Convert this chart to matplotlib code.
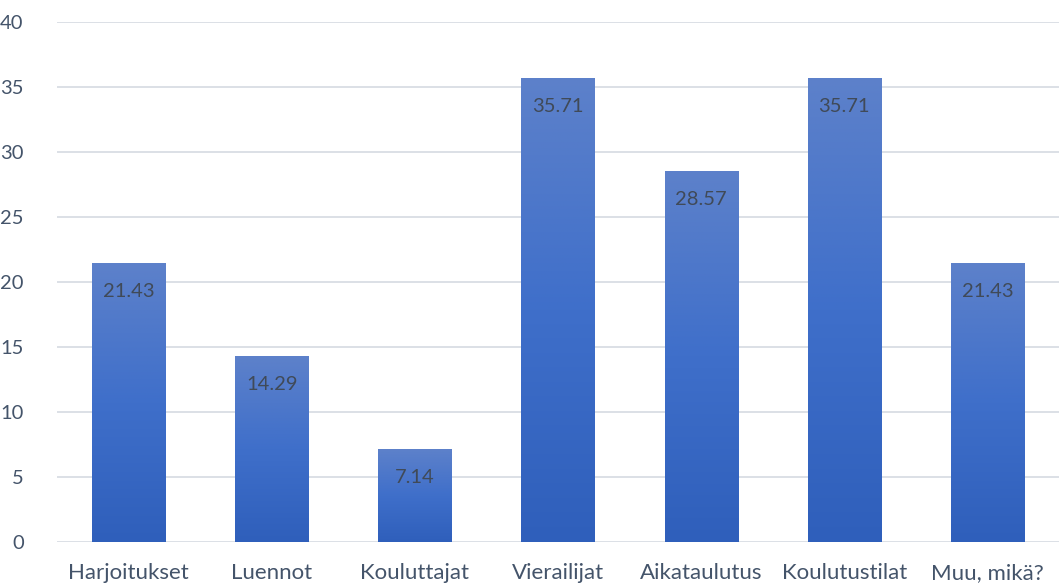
import matplotlib.pyplot as plt
import numpy as np
from matplotlib.colors import LinearSegmentedColormap

categories = ["Harjoitukset", "Luennot", "Kouluttajat", "Vierailijat",
              "Aikataulutus", "Koulutustilat", "Muu, mikä?"]
values = [21.43, 14.29, 7.14, 35.71, 28.57, 35.71, 21.43]
yticks = [0, 5, 10, 15, 20, 25, 30, 35, 40]

plt.rcParams['font.family'] = ['Lato', 'DejaVu Sans']

fig = plt.figure(figsize=(10.59, 5.83), dpi=100)
ax = fig.add_axes([57 / 1059, 41 / 583, 1 - 57 / 1059, 520 / 583])

x = np.arange(len(categories))
width = 0.51
bars = ax.bar(x, values, width=width, color='none', edgecolor='none', zorder=3)

# vertical gradient inside each bar, light at the top, darker at the base
cmap = LinearSegmentedColormap.from_list("bluegrad", ["#2f5fbb", "#3f6fca", "#5d81ca"])
grad = np.linspace(0, 1, 256).reshape(-1, 1)
for b in bars:
    x0, y0 = b.get_x(), b.get_y()
    im = ax.imshow(grad, cmap=cmap, origin='lower', aspect='auto',
                   extent=[x0, x0 + b.get_width(), y0, y0 + b.get_height()],
                   zorder=3)
    im.set_clip_path(b)

for xi, v in zip(x, values):
    ax.annotate(f"{v:.2f}", (xi, v), xytext=(0, -20.5), textcoords='offset points',
                ha='center', va='center', fontsize=14.5, color='#404a58', zorder=4)

ax.set_xlim(-0.5, len(categories) - 0.5)
ax.set_ylim(0, 40)
ax.set_yticks(yticks)
ax.set_xticks(x, categories)
ax.grid(axis='y', color='#d9dde4', linewidth=1.3, zorder=0)
for s in ax.spines.values():
    s.set_visible(False)
ax.tick_params(axis='both', length=0, labelcolor='#44546a')
ax.tick_params(axis='y', pad=24, labelsize=14.5)
ax.tick_params(axis='x', pad=15, labelsize=16)
for lbl in ax.get_yticklabels():
    lbl.set_horizontalalignment('right')

fig.savefig("out.png", dpi=100)
